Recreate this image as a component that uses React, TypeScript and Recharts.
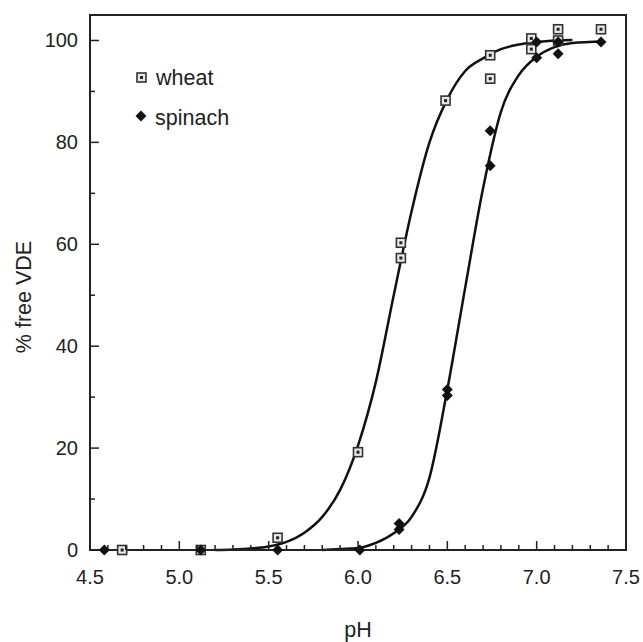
import { ComposedChart, Line, Scatter, XAxis, YAxis, ReferenceArea, Label } from "recharts"

// measured points
const wheatPH = [4.68, 5.12, 5.55, 6.0, 6.24, 6.24, 6.49, 6.74, 6.74, 6.97, 6.97, 7.12, 7.12, 7.36]
const wheatPct = [0, 0, 2.4, 19.2, 60.3, 57.3, 88.2, 97.1, 92.5, 100.4, 98.3, 102.2, 100, 102.2]

const spinachPH = [4.58, 5.12, 5.55, 6.01, 6.23, 6.23, 6.5, 6.5, 6.74, 6.74, 7.0, 7.0, 7.12, 7.12, 7.36]
const spinachPct = [0, 0, 0, 0, 5.2, 4.0, 31.5, 30.3, 82.3, 75.4, 99.7, 96.6, 99.7, 97.4, 99.7]

// fitted curves
const wheatFitPH = [5.2, 5.3, 5.4, 5.5, 5.6, 5.7, 5.8, 5.9, 6.0, 6.1, 6.2, 6.3, 6.4, 6.5, 6.6, 6.7, 6.8, 6.9, 7.0, 7.1, 7.2]
const wheatFitPct = [0, 0.1, 0.3, 0.7, 1.6, 3.4, 6.5, 11.8, 20.5, 33, 50, 66.5, 80, 88.5, 94, 96.5, 98.3, 99.2, 99.7, 100, 100.1]

const spinachFitPH = [5.8, 5.9, 6.0, 6.1, 6.2, 6.3, 6.4, 6.5, 6.6, 6.7, 6.8, 6.9, 7.0, 7.1, 7.2, 7.37]
const spinachFitPct = [0, 0.2, 0.4, 1.4, 3.3, 6.5, 14.2, 31.5, 51.5, 71, 86, 93.2, 96.8, 98.7, 99.5, 99.8]

const xTicks = [4.5, 4.6, 4.7, 4.8, 4.9, 5.0, 5.1, 5.2, 5.3, 5.4, 5.5, 5.6, 5.7, 5.8, 5.9, 6.0, 6.1, 6.2, 6.3, 6.4, 6.5, 6.6, 6.7, 6.8, 6.9, 7.0, 7.1, 7.2, 7.3, 7.4, 7.5]
const yTicks = [0, 10, 20, 30, 40, 50, 60, 70, 80, 90, 100]

const zip = (xs: number[], ys: number[]) => xs.map((x, i) => ({ x, y: ys[i] }))

const wheat = zip(wheatPH, wheatPct)
const spinach = zip(spinachPH, spinachPct)
const wheatFit = zip(wheatFitPH, wheatFitPct)
const spinachFit = zip(spinachFitPH, spinachFitPct)

const FONT = "'Liberation Sans', Arial, sans-serif"
const INK = "#222"

const isMajor = (v: number, step: number) => Math.abs(v / step - Math.round(v / step)) < 1e-6

function XTick({ x, y, payload }: any) {
  const v = payload.value
  const major = isMajor(v, 0.5)
  return (
    <g>
      <line x1={x} x2={x} y1={y} y2={y - (major ? 9 : 5)} stroke={INK} strokeWidth={1.5} />
      {major && (
        <text x={x} y={y + 34} textAnchor="middle" fontSize={20} fontFamily={FONT} fill={INK}>
          {v.toFixed(1)}
        </text>
      )}
    </g>
  )
}

function YTick({ x, y, payload }: any) {
  const v = payload.value
  const major = isMajor(v, 20)
  return (
    <g>
      <line x1={x} x2={x + (major ? 9 : 5)} y1={y} y2={y} stroke={INK} strokeWidth={1.5} />
      {major && (
        <text x={x - 12} y={y + 7} textAnchor="end" fontSize={20} fontFamily={FONT} fill={INK}>
          {v}
        </text>
      )}
    </g>
  )
}

function Square({ cx, cy }: any) {
  return (
    <g>
      <rect x={cx - 4.5} y={cy - 4.5} width={9} height={9} fill="#e8e8e8" stroke="#333" strokeWidth={1.6} />
      <rect x={cx - 1.5} y={cy - 1.5} width={3} height={3} fill="#222" />
    </g>
  )
}

function Diamond({ cx, cy }: any) {
  const r = 5.5
  return <polygon points={`${cx},${cy - r} ${cx + r},${cy} ${cx},${cy + r} ${cx - r},${cy}`} fill="#111" />
}

function XTitle({ viewBox }: any) {
  return (
    <text x={viewBox.x + viewBox.width / 2} y={637} textAnchor="middle" fontSize={21.5} fontFamily={FONT} fill={INK}>
      pH
    </text>
  )
}

function YTitle() {
  return (
    <text x={0} y={0} transform="translate(31, 297) rotate(-90)" textAnchor="middle" fontSize={21.5} fontFamily={FONT} fill={INK}>
      % free VDE
    </text>
  )
}

export default function App() {
  return (
    <div style={{ position: "absolute", left: 0, top: 0, width: 643, height: 642, background: "#fff" }}>
      <ComposedChart width={643} height={642} margin={{ top: 15, right: 17, left: 0, bottom: 0 }}>
        <XAxis
          dataKey="x"
          type="number"
          domain={[4.5, 7.5]}
          ticks={xTicks}
          interval={0}
          height={92}
          tickSize={0}
          tickMargin={0}
          tickLine={false}
          tick={<XTick />}
          axisLine={{ stroke: INK, strokeWidth: 2 }}
        >
          <Label content={<XTitle />} />
        </XAxis>
        <YAxis
          dataKey="y"
          type="number"
          domain={[0, 105]}
          ticks={yTicks}
          interval={0}
          width={90}
          tickSize={0}
          tickMargin={0}
          tickLine={false}
          tick={<YTick />}
          axisLine={{ stroke: INK, strokeWidth: 2 }}
        >
          <Label content={<YTitle />} />
        </YAxis>
        <ReferenceArea x1={4.5} x2={7.5} y1={0} y2={105} fill="none" stroke={INK} strokeWidth={2} />
        <Line data={wheatFit} dataKey="y" type="monotone" stroke="#111" strokeWidth={2.5} dot={false} isAnimationActive={false} />
        <Line data={spinachFit} dataKey="y" type="monotone" stroke="#111" strokeWidth={2.5} dot={false} isAnimationActive={false} />
        <Scatter data={wheat} dataKey="y" shape={<Square />} isAnimationActive={false} />
        <Scatter data={spinach} dataKey="y" shape={<Diamond />} isAnimationActive={false} />
      </ComposedChart>
      <svg width={130} height={75} style={{ position: "absolute", left: 130, top: 60 }}>
        <Square cx={11.5} cy={17.5} />
        <text x={26} y={24.5} fontSize={21.5} fontFamily={FONT} fill={INK}>wheat</text>
        <Diamond cx={11} cy={56} />
        <text x={25} y={64.5} fontSize={21.5} fontFamily={FONT} fill={INK}>spinach</text>
      </svg>
    </div>
  )
}
